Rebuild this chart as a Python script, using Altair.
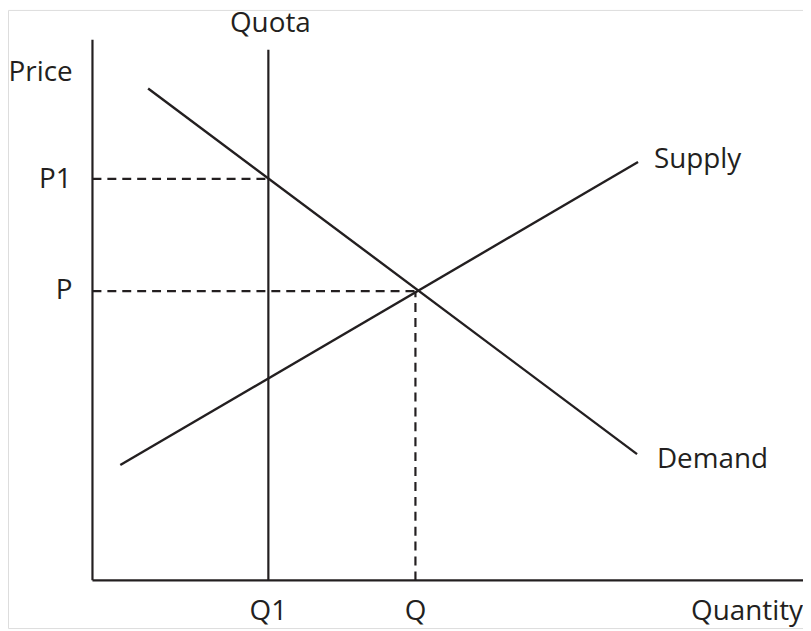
import altair as alt
import pandas as pd

# Economic values (arbitrary units: quantity on x, price on y)
Q1 = 17.7
Q = 32.5
P1 = 40.4
P = 29.1

demand_q = [5.6, 54.8]
demand_p = [49.5, 12.7]
supply_q = [2.8, 54.9]
supply_p = [11.6, 42.1]

x_axis_end = 71.5
y_axis_top = 54.4
quota_top = 53.4

INK = "#231f20"
FONT = "Open Sans"
FS = 28

axes = pd.DataFrame({
    "x": [0, 0, Q1],
    "y": [0, 0, 0],
    "x2": [x_axis_end, 0, Q1],
    "y2": [0, y_axis_top, quota_top],
})

curves = pd.DataFrame({
    "x": [demand_q[0], supply_q[0]],
    "y": [demand_p[0], supply_p[0]],
    "x2": [demand_q[1], supply_q[1]],
    "y2": [demand_p[1], supply_p[1]],
})

dashed = pd.DataFrame({
    "x": [0, 0, Q],
    "y": [P1, P, 0],
    "x2": [Q1, Q, Q],
    "y2": [P1, P, P],
})

labels_right = pd.DataFrame({
    "x": [-2.0, -2.1, -2.0, x_axis_end],
    "y": [50.3, 39.5, 28.3, -4.0],
    "t": ["Price", "P1", "P", "Quantity"],
})
labels_center = pd.DataFrame({
    "x": [17.9, Q1, Q],
    "y": [55.2, -4.0, -4.0],
    "t": ["Quota", "Q1", "Q"],
})
labels_left = pd.DataFrame({
    "x": [56.5, 56.8],
    "y": [41.5, 11.3],
    "t": ["Supply", "Demand"],
})

xs = alt.Scale(domain=[-8.5, 71.5], nice=False, zero=False)
ys = alt.Scale(domain=[-4.8, 57.4], nice=False, zero=False)

def seg(df, dash=None, width=2):
    kw = dict(color=INK, strokeWidth=width)
    if dash:
        kw["strokeDash"] = dash
    return alt.Chart(df).mark_rule(**kw).encode(
        x=alt.X("x:Q", scale=xs, axis=None),
        y=alt.Y("y:Q", scale=ys, axis=None),
        x2="x2:Q",
        y2="y2:Q",
    )

def txt(df, align):
    return alt.Chart(df).mark_text(
        align=align, baseline="alphabetic", font=FONT, fontSize=FS, color=INK
    ).encode(
        x=alt.X("x:Q", scale=xs, axis=None),
        y=alt.Y("y:Q", scale=ys, axis=None),
        text="t:N",
    )

chart = alt.layer(
    seg(axes, width=2.2),
    seg(curves, width=2.4),
    seg(dashed, dash=[9, 6], width=2.2),
    txt(labels_right, "right"),
    txt(labels_center, "center"),
    txt(labels_left, "left"),
).properties(
    width=800, height=622, padding=0,
    autosize=alt.AutoSizeParams(type="none"),
).configure_view(stroke=None).configure(background="white")

chart.save("out.html", embed_options={"renderer": "svg", "actions": False})
